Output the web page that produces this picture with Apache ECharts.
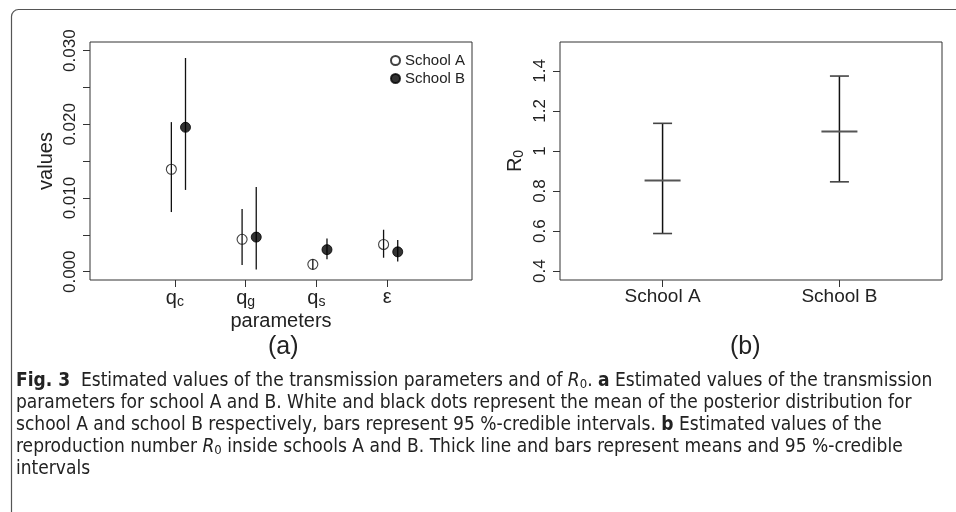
<!DOCTYPE html>
<html><head><meta charset="utf-8">
<script src="https://cdn.jsdelivr.net/npm/echarts@6/dist/echarts.min.js"></script>
<style>html,body{margin:0;padding:0;background:#fff}#c{width:956px;height:512px}</style>
</head><body><div id="c"></div>
<script>
// ---- Panel (a) data ----
const paramBase = ['q', 'q', 'q', 'ε'];
const paramSub = ['c', 'g', 's', ''];
const aMean = [0.0139, 0.0044, 0.0010, 0.0037];
const aLow  = [0.0081, 0.0009, 0.0003, 0.0019];
const aHigh = [0.0203, 0.0085, 0.0017, 0.0057];
const bMean = [0.0196, 0.0047, 0.0030, 0.0027];
const bLow  = [0.0111, 0.0003, 0.0017, 0.0014];
const bHigh = [0.0290, 0.0115, 0.0045, 0.0043];
const yTicksA = [0, 0.005, 0.010, 0.015, 0.020, 0.025, 0.030];
const yLabelsA = [0, 0.010, 0.020, 0.030];
// ---- Panel (b) data ----
const schools = ['School A', 'School B'];
const r0Mean = [0.853, 1.097];
const r0Low  = [0.588, 0.846];
const r0High = [1.138, 1.374];
const yTicksB = [0.4, 0.6, 0.8, 1.0, 1.2, 1.4];

const FONT = '"Liberation Sans", Arial, Helvetica, sans-serif';
const CAP = '"DejaVu Sans Condensed", "Liberation Sans Narrow", sans-serif';
const INK = '#222';
const offA = -0.05, offB = 0.15;

const chart = echarts.init(document.getElementById('c'), null, {renderer: 'canvas'});

function vbar(data, color, width) {
  return {
    type: 'custom', xAxisIndex: 0, yAxisIndex: 0, silent: true, z: 2,
    data: data, encode: {x: 0, y: [1, 2]},
    renderItem: (p, api) => {
      const a = api.coord([api.value(0), api.value(1)]);
      const b = api.coord([api.value(0), api.value(2)]);
      return {type: 'line', shape: {x1: a[0], y1: a[1], x2: b[0], y2: b[1]},
              style: {stroke: color, lineWidth: width}};
    }
  };
}

const option = {
  animation: false,
  textStyle: {fontFamily: FONT, color: INK},
  graphic: [
    {type: 'rect', shape: {x: 11.5, y: 9.5, width: 1100, height: 700, r: 7},
     style: {fill: 'none', stroke: '#555', lineWidth: 1.2}, silent: true},
    {type: 'text', left: 268, top: 335, style: {text: '(a)', font: '25px ' + FONT, fill: INK}},
    {type: 'text', left: 730, top: 335, style: {text: '(b)', font: '25px ' + FONT, fill: INK}},
    {type: 'text', left: 16, top: 370,
     style: {
       text: '{b|Fig. 3}  Estimated values of the transmission parameters and of {i|R}{isub|0}. {b|a} Estimated values of the transmission\n' +
             'parameters for school A and B. White and black dots represent the mean of the posterior distribution for\n' +
             'school A and school B respectively, bars represent 95 %-credible intervals. {b|b} Estimated values of the\n' +
             'reproduction number {i|R}{isub|0} inside schools A and B. Thick line and bars represent means and 95 %-credible\n' +
             'intervals',
       font: '19px ' + CAP,
       fill: '#222', lineHeight: 22,
       rich: {
         b: {fontWeight: 'bold', fontSize: 19, fontFamily: CAP, lineHeight: 22},
         i: {fontStyle: 'italic', fontSize: 19, fontFamily: CAP, lineHeight: 22},
         isub: {fontSize: 13, fontFamily: CAP, padding: [7, 0, 0, 0], lineHeight: 22}
       }
     }}
  ],
  legend: {
    data: ['School A', 'School B'], orient: 'vertical', left: 385, top: 48,
    itemWidth: 9, itemHeight: 9, itemGap: 3, selectedMode: false,
    textStyle: {fontSize: 15, fontFamily: FONT, color: INK, padding: [0, 0, 0, 0]}
  },
  grid: [
    {left: 90, top: 42, width: 382, height: 238, show: true, borderColor: '#333', borderWidth: 1, containLabel: false},
    {left: 560, top: 42, width: 382, height: 238, show: true, borderColor: '#333', borderWidth: 1, containLabel: false}
  ],
  xAxis: [
    {type: 'value', gridIndex: 0, min: -0.2, max: 5.2, position: 'bottom',
     axisLine: {show: false, onZero: false}, splitLine: {show: false},
     axisTick: {show: true, length: 7, customValues: [1, 2, 3, 4], lineStyle: {color: '#333'}},
     axisLabel: {show: true, customValues: [1, 2, 3, 4], margin: 7,
       formatter: v => { const i = Math.round(v) - 1; return paramSub[i] ? '{m|' + paramBase[i] + '}{s|' + paramSub[i] + '}' : '{m|' + paramBase[i] + '}'; },
       rich: {m: {fontSize: 20, fontFamily: FONT, color: INK}, s: {fontSize: 14, fontFamily: FONT, color: INK, padding: [8, 0, 0, 0]}}},
     name: 'parameters', nameLocation: 'middle', nameGap: 31,
     nameTextStyle: {fontSize: 20, fontFamily: FONT, color: INK}},
    {type: 'value', gridIndex: 1, min: 0.42, max: 2.58, position: 'bottom',
     axisLine: {show: false, onZero: false}, splitLine: {show: false},
     axisTick: {show: true, length: 7, customValues: [1, 2], lineStyle: {color: '#333'}},
     axisLabel: {show: true, customValues: [1, 2], margin: 7, fontSize: 19, color: INK, fontFamily: FONT,
       formatter: v => schools[Math.round(v) - 1]}}
  ],
  yAxis: [
    {type: 'value', gridIndex: 0, min: -0.00112, max: 0.03117, position: 'left',
     axisLine: {show: false, onZero: false}, splitLine: {show: false},
     axisTick: {show: true, length: 7, customValues: yTicksA, lineStyle: {color: '#333'}},
     axisLabel: {show: true, customValues: yLabelsA, rotate: 90, margin: 11, fontSize: 17, color: INK, fontFamily: FONT,
       formatter: v => v.toFixed(3)},
     name: 'values', nameLocation: 'middle', nameGap: 34,
     nameTextStyle: {fontSize: 20, fontFamily: FONT, color: INK}},
    {type: 'value', gridIndex: 1, min: 0.356, max: 1.544, position: 'left',
     axisLine: {show: false, onZero: false}, splitLine: {show: false},
     axisTick: {show: true, length: 7, customValues: yTicksB, lineStyle: {color: '#333'}},
     axisLabel: {show: true, customValues: yTicksB, rotate: 90, margin: 11, fontSize: 17, color: INK, fontFamily: FONT,
       formatter: v => String(Math.round(v * 10) / 10)},
     name: '{r|R}{s|0}', nameLocation: 'middle', nameGap: 34,
     nameTextStyle: {rich: {r: {fontSize: 20, fontFamily: FONT, color: INK}, s: {fontSize: 14, fontFamily: FONT, color: INK, padding: [8, 0, 0, 0]}}}}
  ],
  series: [
    vbar(aLow.map((l, i) => [i + 1 + offA, l, aHigh[i]]), '#111', 1.3),
    vbar(bLow.map((l, i) => [i + 1 + offB, l, bHigh[i]]), '#111', 1.3),
    {type: 'scatter', name: 'School A', xAxisIndex: 0, yAxisIndex: 0, z: 3,
     symbol: 'circle', symbolSize: 10,
     itemStyle: {color: 'rgba(255,255,255,0)', borderColor: '#111', borderWidth: 1.1},
     data: aMean.map((m, i) => [i + 1 + offA, m])},
    {type: 'scatter', name: 'School B', xAxisIndex: 0, yAxisIndex: 0, z: 3,
     symbol: 'circle', symbolSize: 10,
     itemStyle: {color: '#000', borderColor: '#000', borderWidth: 1},
     data: bMean.map((m, i) => [i + 1 + offB, m])},
    {type: 'custom', xAxisIndex: 1, yAxisIndex: 1, silent: true,
     data: r0Mean.map((m, i) => [i + 1, r0Low[i], m, r0High[i]]),
     encode: {x: 0, y: [1, 2, 3]},
     renderItem: (p, api) => {
       const x = api.value(0);
       const lo = api.coord([x, api.value(1)]);
       const mn = api.coord([x, api.value(2)]);
       const hi = api.coord([x, api.value(3)]);
       return {type: 'group', children: [
         {type: 'line', shape: {x1: lo[0], y1: lo[1], x2: hi[0], y2: hi[1]}, style: {stroke: '#111', lineWidth: 1.5}},
         {type: 'line', shape: {x1: hi[0] - 9.5, y1: hi[1], x2: hi[0] + 9.5, y2: hi[1]}, style: {stroke: '#444', lineWidth: 1.6}},
         {type: 'line', shape: {x1: lo[0] - 9.5, y1: lo[1], x2: lo[0] + 9.5, y2: lo[1]}, style: {stroke: '#444', lineWidth: 1.6}},
         {type: 'line', shape: {x1: mn[0] - 18, y1: mn[1], x2: mn[0] + 18, y2: mn[1]}, style: {stroke: '#555', lineWidth: 2}}
       ]};
     }}
  ]
};
chart.setOption(option);
</script>
</body></html>
